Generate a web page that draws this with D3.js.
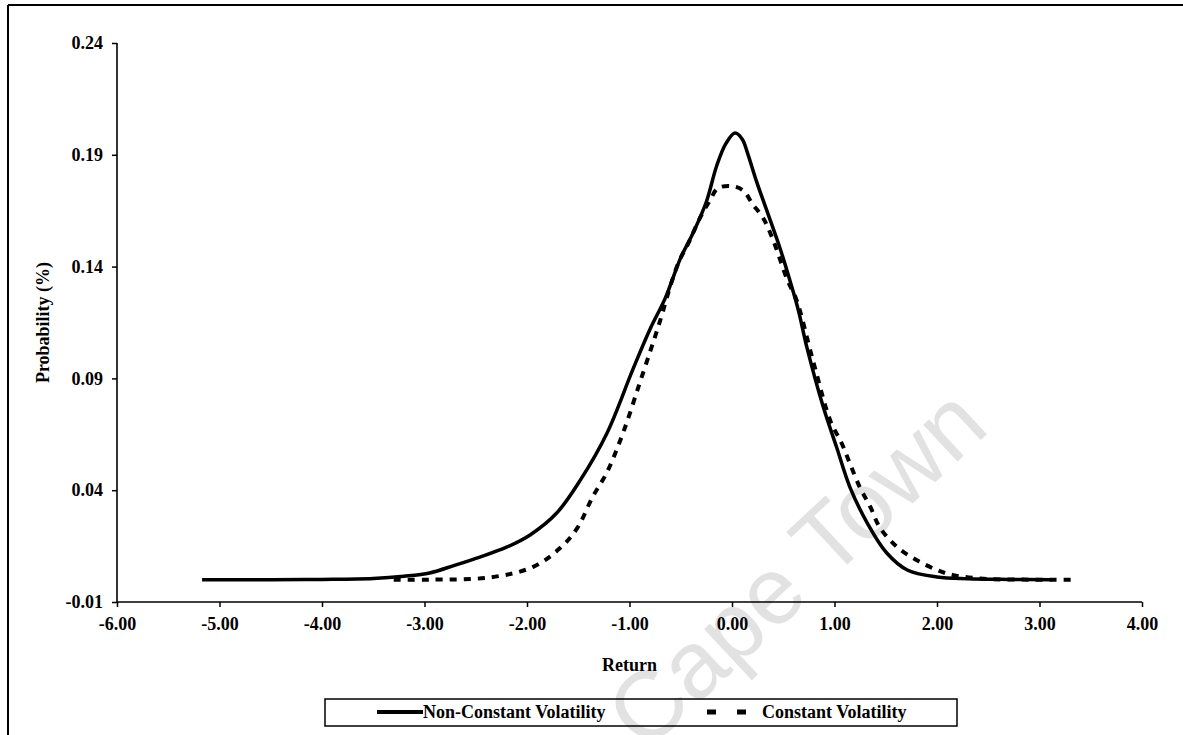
<!DOCTYPE html>
<html>
<head>
<meta charset="utf-8">
<script src="https://cdn.jsdelivr.net/npm/d3@7"></script>
<style>
  html, body { margin: 0; padding: 0; background: #fff; }
  svg { display: block; }
  text { font-family: "Liberation Serif", "Times New Roman", serif; fill: #000; }
</style>
</head>
<body>
<svg id="chart" width="1183" height="735"></svg>
<script>
// Return grid and density for the non-constant volatility model
const ncReturn = [-5.17, -4.5, -4.0, -3.5, -3.2, -2.95, -2.7, -2.46, -2.2, -1.97, -1.71, -1.48, -1.22, -0.97, -0.8, -0.65, -0.5, -0.38, -0.25, -0.15, -0.06, 0.03, 0.1, 0.15, 0.24, 0.34, 0.47, 0.57, 0.65, 0.73, 0.89, 1.02, 1.15, 1.32, 1.51, 1.71, 2.0, 2.3, 2.7, 3.12];
const ncProb   = [0, 0, 0.0001, 0.0005, 0.0015, 0.003, 0.0065, 0.0101, 0.0145, 0.020, 0.0298, 0.0445, 0.0655, 0.0937, 0.112, 0.126, 0.144, 0.155, 0.169, 0.185, 0.195, 0.1997, 0.197, 0.191, 0.178, 0.165, 0.148, 0.133, 0.12, 0.104, 0.0773, 0.0593, 0.0414, 0.0253, 0.0119, 0.0043, 0.0012, 0.0004, 0.0001, 0];

// Return grid and density for the constant volatility model
const cReturn = [-3.3, -2.95, -2.36, -1.94, -1.68, -1.51, -1.36, -1.22, -1.06, -0.9, -0.77, -0.7, -0.59, -0.51, -0.43, -0.31, -0.21, -0.14, 0.0, 0.11, 0.2, 0.3, 0.4, 0.54, 0.63, 0.79, 0.96, 1.07, 1.15, 1.25, 1.35, 1.44, 1.61, 1.8, 2.0, 2.16, 2.49, 2.9, 3.32];
const cProb   = [0, 0, 0.001, 0.0057, 0.014, 0.023, 0.037, 0.048, 0.066, 0.088, 0.106, 0.116, 0.133, 0.143, 0.15, 0.162, 0.17, 0.175, 0.176, 0.174, 0.168, 0.162, 0.152, 0.134, 0.125, 0.098, 0.071, 0.061, 0.052, 0.041, 0.0325, 0.0235, 0.0146, 0.0088, 0.0043, 0.002, 0.0003, 0, 0];

const xTicks = [-6, -5, -4, -3, -2, -1, 0, 1, 2, 3, 4];
const xTickLabels = ["-6.00", "-5.00", "-4.00", "-3.00", "-2.00", "-1.00", "0.00", "1.00", "2.00", "3.00", "4.00"];
const yTicks = [-0.01, 0.04, 0.09, 0.14, 0.19, 0.24];
const yTickLabels = ["-0.01", "0.04", "0.09", "0.14", "0.19", "0.24"];

const seriesNames = ["Non-Constant Volatility", "Constant Volatility"];

const FONT_SIZE = "18px";
const svg = d3.select("#chart");

// Frame (top and left edges)
svg.append("line").attr("x1", 8).attr("y1", 5).attr("x2", 1183).attr("y2", 5)
  .attr("stroke", "#000").attr("stroke-width", 2);
svg.append("line").attr("x1", 8).attr("y1", 5).attr("x2", 8).attr("y2", 735)
  .attr("stroke", "#000").attr("stroke-width", 2);

// Watermark
svg.append("text")
  .attr("transform", "translate(645,753) rotate(-43)")
  .style("font-family", "'Liberation Sans', Arial, sans-serif")
  .style("font-size", "95px")
  .style("fill", "#e2e2e2")
  .text("Cape Town");

const x = d3.scaleLinear().domain([-6, 4]).range([117, 1142]);
const y = d3.scaleLinear().domain([-0.01, 0.24]).range([602, 43]);

// Axes
const xAxis = d3.axisBottom(x).tickValues(xTicks)
  .tickFormat((d, i) => xTickLabels[i]).tickSize(5).tickPadding(10);
const yAxis = d3.axisLeft(y).tickValues(yTicks)
  .tickFormat((d, i) => yTickLabels[i]).tickSize(5).tickPadding(9);

const gx = svg.append("g").attr("transform", `translate(0,${y(-0.01)})`).call(xAxis);
const gy = svg.append("g").attr("transform", `translate(${x(-6)},0)`).call(yAxis);

[gx, gy].forEach(g => {
  g.select(".domain").attr("stroke", "#000").attr("stroke-width", 1.6);
  g.selectAll(".tick line").attr("stroke", "#000").attr("stroke-width", 1.5);
  g.selectAll(".tick text")
    .style("font-family", "'Liberation Serif', 'Times New Roman', serif")
    .style("font-size", FONT_SIZE).style("font-weight", "bold").attr("fill", "#000");
});
// plain axis lines without end caps
gx.select(".domain").attr("d", `M${x(-6)},0H${x(4)}`);
gy.select(".domain").attr("d", `M0,${y(0.24)}V${y(-0.01)}`);

// Axis titles
svg.append("text")
  .attr("x", (x(-6) + x(4)) / 2).attr("y", 671)
  .attr("text-anchor", "middle")
  .style("font-size", FONT_SIZE).style("font-weight", "bold")
  .text("Return");

svg.append("text")
  .attr("transform", `translate(49,${(y(0.24) + y(-0.01)) / 2}) rotate(-90)`)
  .attr("text-anchor", "middle")
  .style("font-size", FONT_SIZE).style("font-weight", "bold")
  .text("Probability (%)");

// Curves
const line = d3.line().x(d => x(d[0])).y(d => y(d[1])).curve(d3.curveCatmullRom.alpha(0.5));
const ncData = ncReturn.map((r, i) => [r, ncProb[i]]);
const cData = cReturn.map((r, i) => [r, cProb[i]]);

svg.append("path").datum(ncData)
  .attr("d", line).attr("fill", "none")
  .attr("stroke", "#000").attr("stroke-width", 3.5)
  .attr("stroke-linejoin", "round");

svg.append("path").datum(cData)
  .attr("d", line).attr("fill", "none")
  .attr("stroke", "#000").attr("stroke-width", 4)
  .attr("stroke-dasharray", "7,7");

// Legend
const lg = svg.append("g");
lg.append("rect").attr("x", 325).attr("y", 699).attr("width", 632).attr("height", 27)
  .attr("fill", "none").attr("stroke", "#000").attr("stroke-width", 1.5);
lg.append("line").attr("x1", 377).attr("x2", 423).attr("y1", 712).attr("y2", 712)
  .attr("stroke", "#000").attr("stroke-width", 4);
lg.append("text").attr("x", 423).attr("y", 718)
  .style("font-size", FONT_SIZE).style("font-weight", "bold").text(seriesNames[0]);
lg.append("line").attr("x1", 707).attr("x2", 747).attr("y1", 712).attr("y2", 712)
  .attr("stroke", "#000").attr("stroke-width", 5).attr("stroke-dasharray", "9,21");
lg.append("text").attr("x", 762).attr("y", 718)
  .style("font-size", FONT_SIZE).style("font-weight", "bold").text(seriesNames[1]);
</script>
</body>
</html>
